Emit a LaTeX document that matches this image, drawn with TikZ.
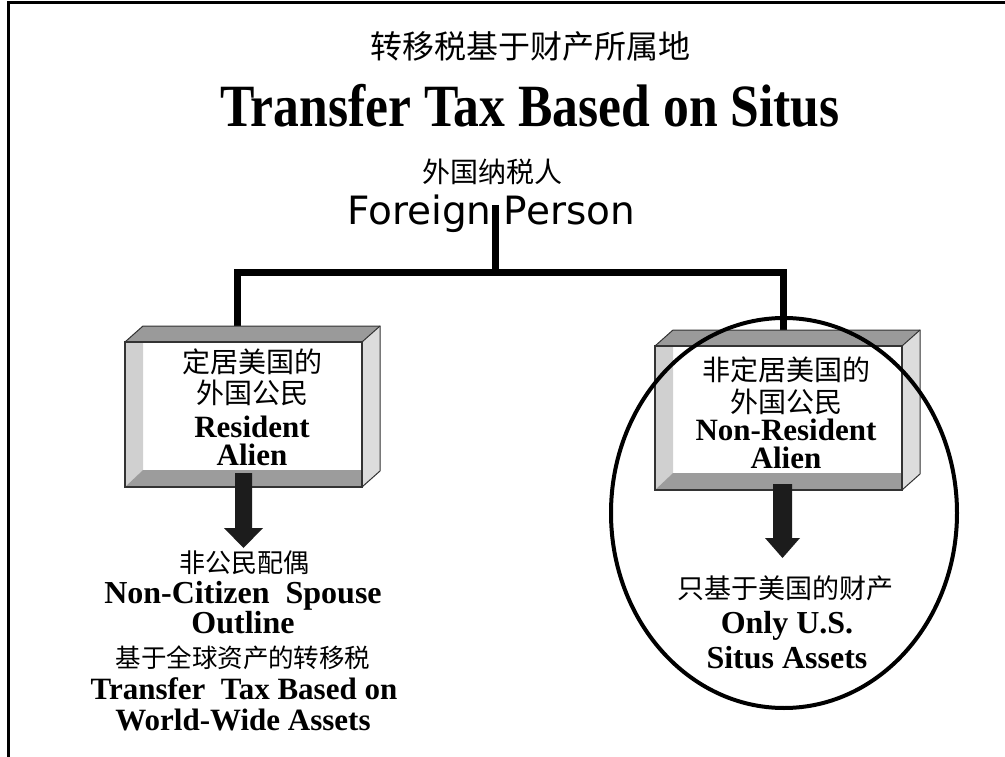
\documentclass[tikz,border=0pt]{standalone}
\usepackage{fontspec}
\setmainfont{Liberation Serif}
\newfontfamily\cjk{Noto Sans CJK SC}
\newfontfamily\fpfont{DejaVu Sans}
\newcommand\fsz[1]{\fontsize{#1}{#1}\selectfont}
\definecolor{topgray}{HTML}{9A9A9A}
\definecolor{sidegray}{HTML}{DCDCDC}
\definecolor{stripgray}{HTML}{D0D0D0}
\definecolor{botgray}{HTML}{9C9C9C}
\definecolor{edgegray}{HTML}{333333}
\definecolor{arrowfill}{HTML}{1C1C1C}
\tikzset{
  cjkt/.style={font={\cjk\fsz{28}}, inner sep=0pt},
  engb/.style={font={\bfseries\fsz{31}}, inner sep=0pt, anchor=base},
  conn/.style={line width=7pt, line join=miter},
  boxnode/.style={inner sep=0pt, draw=none}
}
% bevel box: front x1,y1,x2,y2
\newcommand\bevelbox[4]{%
  \fill[topgray] (#1,#2) -- ({#1+18},{#2-16}) -- ({#3+18},{#2-16}) -- (#3,#2) -- cycle;
  \fill[sidegray] (#3,#2) -- ({#3+18},{#2-16}) -- ({#3+18},{#4-16}) -- (#3,#4) -- cycle;
  \draw[edgegray, line width=1pt] (#1,#2) -- ({#1+18},{#2-16}) -- ({#3+18},{#2-16}) -- ({#3+18},{#4-16}) -- (#3,#4);
  \draw[edgegray, line width=1pt] (#3,#2) -- ({#3+18},{#2-16});
  \fill[white] (#1,#2) rectangle (#3,#4);
  \fill[stripgray] (#1,#2) -- ({#1+18},#2) -- ({#1+18},{#4-17}) -- (#1,#4) -- cycle;
  \fill[botgray] (#1,#4) -- ({#1+18},{#4-17}) -- (#3,{#4-17}) -- (#3,#4) -- cycle;
  \draw[edgegray, line width=1.6pt] (#1,#2) rectangle (#3,#4);
}
\newcommand\blockarrow[6]{%
  \fill[arrowfill] ({#1-#5},#2) -- ({#1+#5},#2) -- ({#1+#5},#3) -- ({#1+#6},#3) -- (#1,#4) -- ({#1-#6},#3) -- ({#1-#5},#3) -- cycle;}
\begin{document}
\begin{tikzpicture}[x=1pt, y=-1pt]
\useasboundingbox (0,0) rectangle (1005,757);
\fill[white] (0,0) rectangle (1005,757);
% frame (top and left only)
\draw[line width=3pt] (8,757) -- (8,3) -- (1005,3);

% titles
\node[font={\cjk\fsz{32}}, inner sep=0pt] (tcn) at (530,46) {转移税基于财产所属地};
\node[font={\bfseries\fsz{60}}, inner sep=0pt, anchor=base] (ten) at (530,127) {\scalebox{0.86}[1]{Transfer Tax Based on Situs}};

% root
\node[cjkt] (fpcn) at (492,172) {外国纳税人};
\node[font={\fpfont\fsz{39}}, inner sep=0pt, anchor=base] (fp) at (491,225) {Foreign Person};

% connectors
\coordinate (fptop) at (495,205);
\coordinate (j) at (495,272);
\coordinate (jl) at (237,272);
\coordinate (jr) at (783,272);
\coordinate (lt) at (237,328);
\coordinate (rt) at (783,331);
\draw[conn] (fptop) -- (j);
\draw[conn] (lt) -- (jl) -- (jr) -- (rt);

% boxes
\bevelbox{125}{342}{362}{487}
\bevelbox{655}{346}{902}{490}
\node[boxnode, minimum width=237pt, minimum height=145pt] (ra) at (243.5,414.5) {};
\node[boxnode, minimum width=247pt, minimum height=144pt] (nra) at (778.5,418) {};

% left box text
\node[cjkt] (ra1) at (252,362) {定居美国的};
\node[cjkt] (ra2) at (252,393) {外国公民};
\node[engb] (ra3) at (252,437) {Resident};
\node[engb] (ra4) at (252,465) {Alien};

% right box text
\node[cjkt] (nra1) at (786,370) {非定居美国的};
\node[cjkt] (nra2) at (786,402) {外国公民};
\node[engb] (nra3) at (786,440) {Non-Resident};
\node[engb] (nra4) at (786,468) {Alien};

% arrows
\blockarrow{243.5}{473}{528}{548}{8.5}{19.5}
\blockarrow{782.5}{484}{538}{558}{9.5}{17.5}

% lower left text
\node[font={\cjk\fsz{26}}, inner sep=0pt] (l1) at (244,563) {非公民配偶};
\node[engb, font={\bfseries\fsz{32}}] (l2) at (243,603) {Non-Citizen\ \ Spouse};
\node[engb, font={\bfseries\fsz{32}}] (l3) at (243,633) {Outline};
\node[font={\cjk\fsz{25.5}}, inner sep=0pt] (l4) at (243,658) {基于全球资产的转移税};
\node[engb, font={\bfseries\fsz{31}}, text depth=0pt] (l5) at (244,699) {Transfer\ \ Tax Based on};
\node[engb, font={\bfseries\fsz{31}}, text height=21pt] (l6) at (243,730) {World-Wide Assets};

% lower right text
\node[font={\cjk\fsz{27}}, inner sep=0pt] (r1) at (785,588) {只基于美国的财产};
\node[engb, font={\bfseries\fsz{32}}] (r2) at (787,633) {Only U.S.};
\node[engb, font={\bfseries\fsz{32}}] (r3) at (787,668) {Situs Assets};

% ellipse highlight
\draw[line width=4pt] (784,513) ellipse [x radius=173, y radius=195];
\end{tikzpicture}
\end{document}
